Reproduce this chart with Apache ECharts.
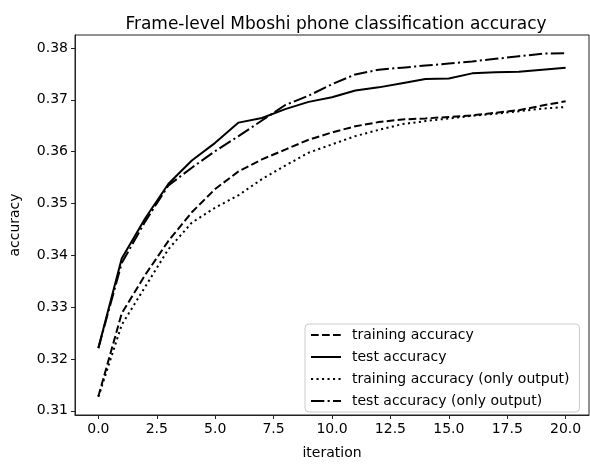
<!DOCTYPE html>
<html>
<head>
<meta charset="utf-8">
<script src="https://cdn.jsdelivr.net/npm/echarts@6/dist/echarts.min.js"></script>
<style>
html,body{margin:0;padding:0;background:#fff;}
#chart{width:590px;height:465px;}
</style>
</head>
<body>
<div id="chart"></div>
<script>
var iterations = [0,1,2,3,4,5,6,7,8,9,10,11,12,13,14,15,16,17,18,19,20];
var trainingAcc = [0.3128,0.3288,0.3362,0.3428,0.3483,0.3528,0.3562,0.3585,0.3604,0.3623,0.3637,0.3649,0.3657,0.3662,0.3664,0.3667,0.3670,0.3675,0.3680,0.3689,0.3697];
var testAcc = [0.3221,0.3394,0.3471,0.3538,0.3583,0.3617,0.3656,0.3665,0.3682,0.3696,0.3705,0.3718,0.3724,0.3732,0.3740,0.3741,0.3751,0.3753,0.3754,0.3758,0.3762];
var trainingAccOnlyOut = [0.3127,0.3266,0.3339,0.3412,0.3463,0.3492,0.3516,0.3547,0.3573,0.3598,0.3614,0.3630,0.3642,0.3653,0.3659,0.3664,0.3669,0.3673,0.3678,0.3683,0.3686];
var testAccOnlyOut = [0.3221,0.3385,0.3465,0.3535,0.3569,0.3601,0.3630,0.3660,0.3690,0.3708,0.3730,0.3749,0.3758,0.3762,0.3766,0.3770,0.3774,0.3779,0.3784,0.3789,0.3790];
var xTicks = [0,2.5,5,7.5,10,12.5,15,17.5,20];
var yTicks = [0.31,0.32,0.33,0.34,0.35,0.36,0.37,0.38];
var seriesNames = ['training accuracy','test accuracy','training accuracy (only output)','test accuracy (only output)'];

function pairs(vals){ return iterations.map(function(x,i){ return [x, vals[i]]; }); }

var FONT = 'DejaVu Sans';
var chart = echarts.init(document.getElementById('chart'), null, {renderer:'canvas'});
var dashStyles = [[7.7,3.3], 'solid', [2.1,3.4], [13.3,3.3,2.1,3.3]];
var dataSets = [trainingAcc, testAcc, trainingAccOnlyOut, testAccOnlyOut];

chart.setOption({
  animation:false,
  backgroundColor:'#fff',
  title:{
    text:'Frame-level Mboshi phone classification accuracy',
    left:331, top:11, textAlign:'center',
    textStyle:{fontFamily:FONT, fontSize:17, fontWeight:'normal', color:'#000'}
  },
  grid:{left:72.7, right:1, top:35, bottom:43, show:true, borderColor:'#222', borderWidth:1, containLabel:false},
  legend:{
    orient:'vertical', left:305, top:324,
    data:seriesNames,
    itemWidth:30, itemHeight:14, itemGap:8,
    padding:[4,10,4,5],
    borderColor:'#ccc', borderWidth:1, borderRadius:4,
    backgroundColor:'rgba(255,255,255,0.8)',
    itemStyle:{opacity:0},
    textStyle:{fontFamily:FONT, fontSize:14, color:'#000', padding:[0,0,0,6]}
  },
  xAxis:{
    type:'value', min:-1, max:21,
    name:'iteration', nameLocation:'middle', nameGap:31,
    nameTextStyle:{fontFamily:FONT, fontSize:14, color:'#000'},
    axisLine:{show:true, onZero:false, lineStyle:{color:'#222', width:1}},
    axisTick:{show:true, inside:false, length:4, lineStyle:{color:'#222'}, customValues:xTicks},
    axisLabel:{fontFamily:FONT, fontSize:14, color:'#000', margin:7, customValues:xTicks,
      formatter:function(v){ return v.toFixed(1); }},
    splitLine:{show:false}
  },
  yAxis:{
    type:'value', min:0.3092, max:0.3825,
    name:'accuracy', nameLocation:'middle', nameGap:53, nameRotate:90,
    nameTextStyle:{fontFamily:FONT, fontSize:14, color:'#000'},
    axisLine:{show:true, onZero:false, lineStyle:{color:'#222', width:1}},
    axisTick:{show:true, inside:false, length:4, lineStyle:{color:'#222'}, customValues:yTicks},
    axisLabel:{fontFamily:FONT, fontSize:14, color:'#000', margin:7, customValues:yTicks,
      formatter:function(v){ return v.toFixed(2); }},
    splitLine:{show:false}
  },
  series: seriesNames.map(function(n, k){
    return {
      name:n, type:'line', data:pairs(dataSets[k]),
      symbol:'none', showSymbol:false, smooth:false,
      lineStyle:{color:'#000', width:2, type:dashStyles[k]},
      itemStyle:{color:'#000'},
      emphasis:{disabled:true}
    };
  })
});
</script>
</body>
</html>
